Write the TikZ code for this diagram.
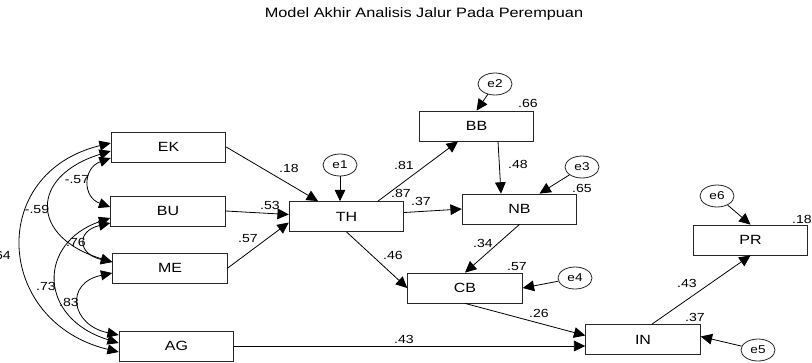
\documentclass[tikz,border=0pt]{standalone}
\usepackage{fontspec}
\setmainfont[FakeStretch=1.2]{Liberation Sans}
\usetikzlibrary{shapes.geometric,arrows.meta,calc}
\begin{document}
\begin{tikzpicture}[x=0.75pt,y=-0.75pt,
  var/.style={draw=black!85,line width=0.6pt,rectangle,minimum width=86pt,minimum height=22.5pt,inner sep=0pt,font=\fontsize{10}{12}\selectfont},
  err/.style={draw=black!85,line width=0.6pt,ellipse,minimum width=25.5pt,minimum height=16.5pt,inner sep=0pt,font=\fontsize{8.5}{10}\selectfont},
  coef/.style={inner sep=0pt,font=\fontsize{8.8}{10}\selectfont},
  reg/.style={line width=0.6pt,-{Triangle[length=8.5pt,width=8pt]}},
  cov/.style={line width=0.6pt,{Triangle[length=8.5pt,width=7.5pt]}-{Triangle[length=8.5pt,width=7.5pt]}}]
\fill[white] (0,0) rectangle (812,362);
\useasboundingbox (0,0) rectangle (812,362);

\node[inner sep=0pt,font=\fontsize{10.2}{12}\selectfont] (title) at (424,14) {Model Akhir Analisis Jalur Pada Perempuan};

% observed variables
\node[var] (EK) at (168.5,147) {EK};
\node[var] (BU) at (168,211) {BU};
\node[var] (ME) at (170,268) {ME};
\node[var] (AG) at (176.5,346) {AG};
\node[var] (TH) at (346.5,216.5) {TH};
\node[var] (BB) at (476.5,126) {BB};
\node[var] (NB) at (519.5,209) {NB};
\node[var] (CB) at (465,288) {CB};
\node[var] (IN) at (643,339.5) {IN};
\node[var] (PR) at (750.5,240) {PR};

% error terms
\node[err] (e1) at (340,165) {e1};
\node[err] (e2) at (495,84) {e2};
\node[err] (e3) at (582,167) {e3};
\node[err] (e4) at (575,278) {e4};
\node[err] (e5) at (758,350) {e5};
\node[err] (e6) at (717,196) {e6};

% error arrows
\draw[reg] (e1) -- (e1 |- TH.north);
\draw[reg] (e2) -- (BB.north);
\draw[reg] (e3) -- ($(NB.north)+(20,0)$);
\draw[reg] (e4) -- (CB.east);
\draw[reg] (e5) -- ($(IN.east)+(0,-3)$);
\draw[reg] (e6) -- (PR.north);

% regression paths
\draw[reg] (EK.east) -- ($(TH.north)+(-28.5,0)$);
\draw[reg] (BU.east) -- ($(TH.west)+(0,-2)$);
\draw[reg] (ME.east) -- ($(TH.west)+(0,6)$);
\draw[reg] ($(TH.north)+(31.5,0)$) -- ($(BB.south)+(-18.5,0)$);
\draw[reg] ($(TH.east)+(0,-4)$) -- (NB.west);
\draw[reg] (TH.south) -- (CB.west);
\draw[reg] ($(BB.south)+(21.5,0)$) -- ($(NB.north)+(-18.5,0)$);
\draw[reg] (NB.south) -- (CB.north);
\draw[reg] (CB.south) -- ($(IN.west)+(0,-4)$);
\draw[reg] (AG.east) -- (AG.east -| IN.west);
\draw[reg] ($(IN.north)+(9,0)$) -- (PR.south);

% covariances
\draw[cov] ($(EK.west)+(0,11)$) .. controls +(-28,10) and +(-28,-10) .. ($(BU.west)+(0,-4)$);
\draw[cov] ($(EK.west)+(0,4)$) .. controls +(-81,25) and +(-83,-25) .. ($(ME.west)+(0,-6)$);
\draw[cov] ($(EK.west)+(0,-4)$) .. controls +(-124,30) and +(-124,-30) .. ($(AG.west)+(0,6)$);
\draw[cov] ($(BU.west)+(0,12)$) .. controls +(-34,8) and +(-35,-8) .. ($(ME.west)+(0,-6)$);
\draw[cov] ($(BU.west)+(0,7)$) .. controls +(-73,25) and +(-81,-25) .. ($(AG.west)+(0,-3)$);
\draw[cov] ($(ME.west)+(0,5)$) .. controls +(-48,10) and +(-48,-10) .. ($(AG.west)+(0,-11)$);

% coefficient labels
\node[coef] (l1) at (289,168) {.18};
\node[coef] (l2) at (270,205) {.53};
\node[coef] (l3) at (248,239) {.57};
\node[coef] (l4) at (404,165) {.81};
\node[coef] (l5) at (401,193) {.87};
\node[coef] (l6) at (421,201) {.37};
\node[coef] (l7) at (518,164) {.48};
\node[coef] (l8) at (528,103) {.66};
\node[coef] (l9) at (582,188) {.65};
\node[coef] (l10) at (393,255) {.46};
\node[coef] (l11) at (483,243) {.34};
\node[coef] (l12) at (517,267) {.57};
\node[coef] (l13) at (539,313) {.26};
\node[coef] (l14) at (404,339) {.43};
\node[coef] (l15) at (687,283) {.43};
\node[coef] (l16) at (695,317) {.37};
\node[coef] (l17) at (802,219) {.18};
\node[coef] (l18) at (77,180) {-.57};
\node[coef] (l19) at (37,209) {-.59};
\node[coef,anchor=east] (l20) at (11,255) {.64};
\node[coef] (l21) at (76,242) {.76};
\node[coef] (l22) at (46,286) {.73};
\node[coef] (l23) at (69,302) {.83};
\end{tikzpicture}
\end{document}
